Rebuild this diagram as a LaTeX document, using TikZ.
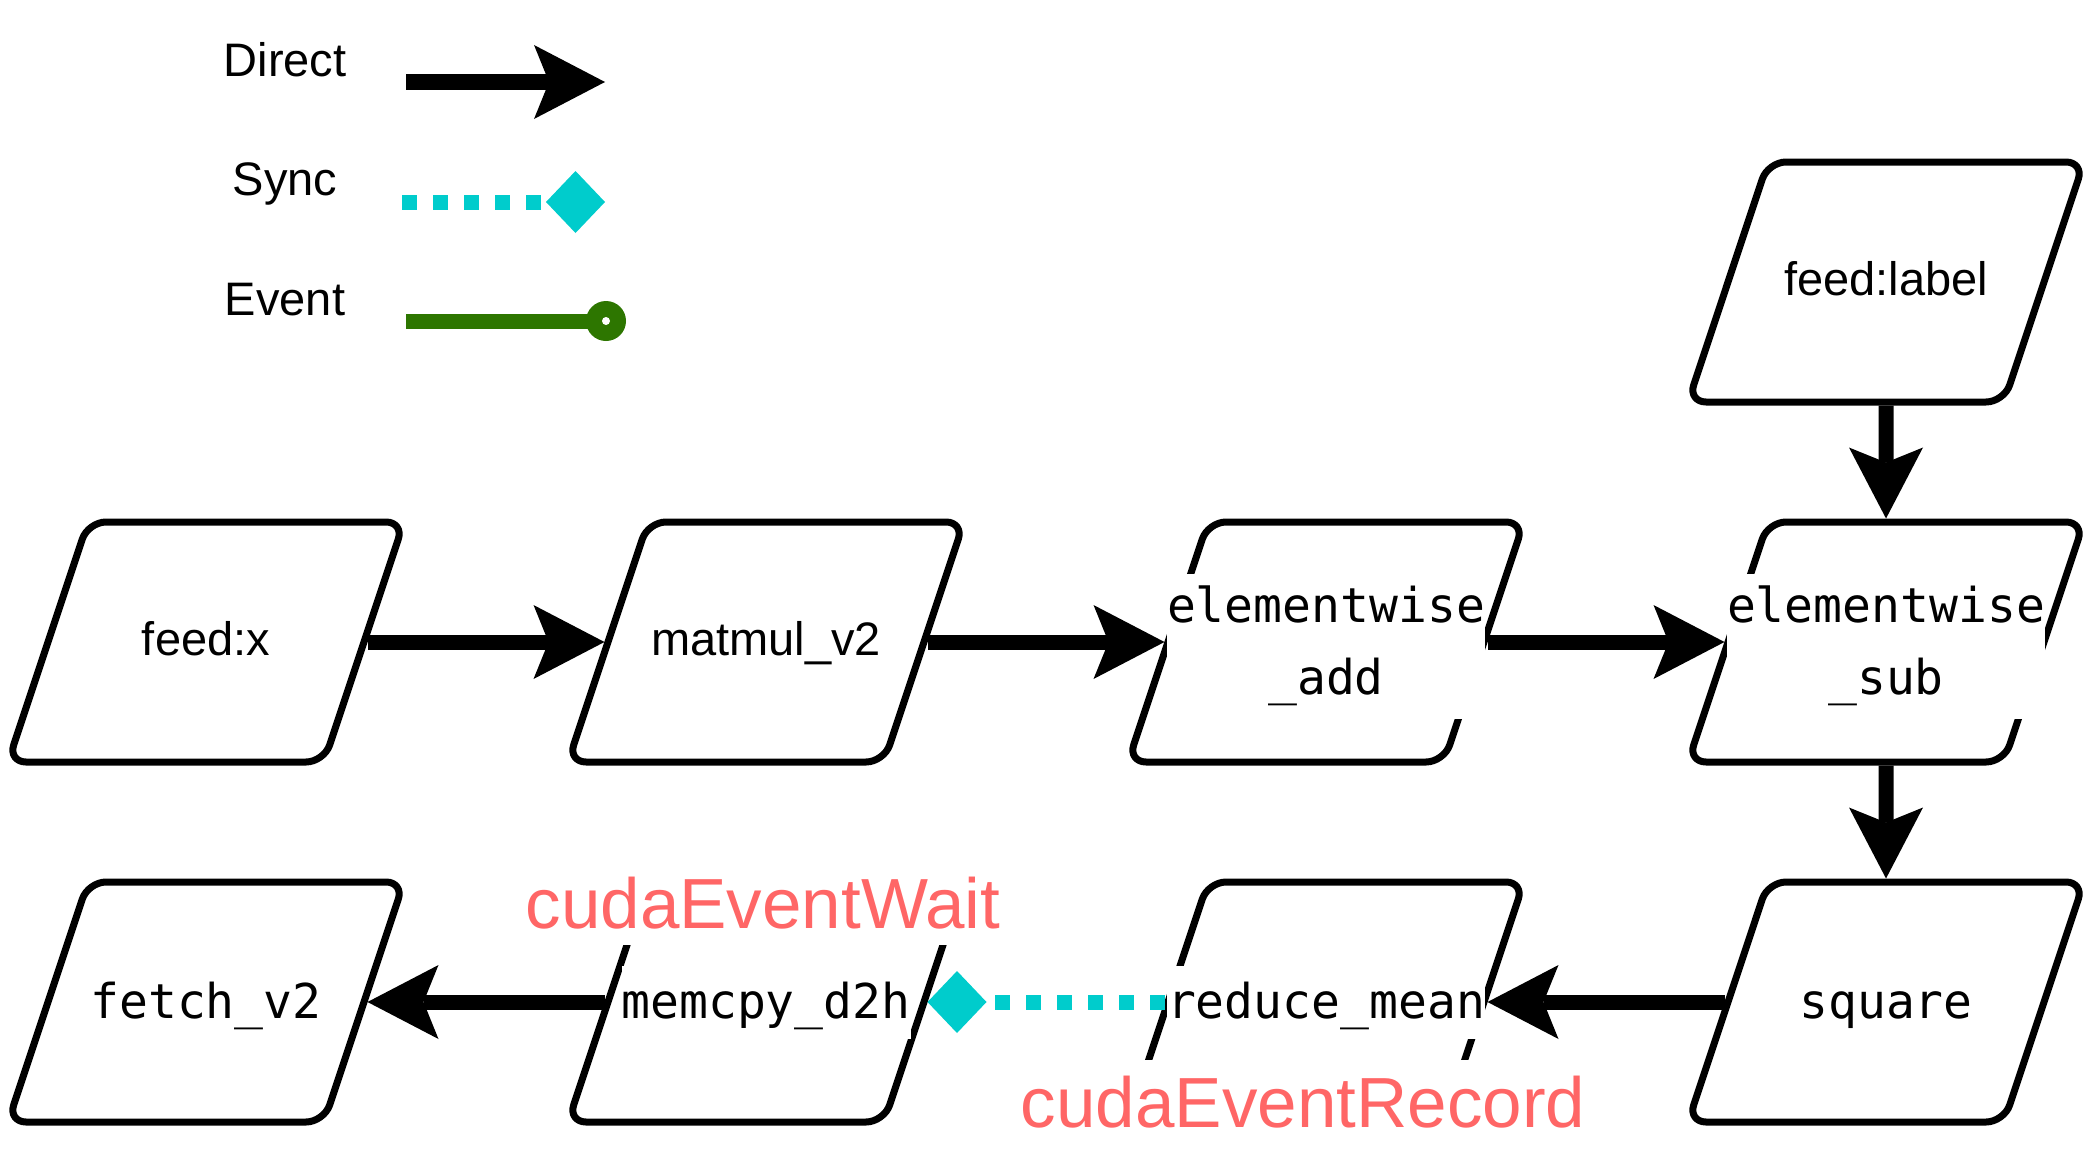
\documentclass[tikz,border=0pt]{standalone}
\usepackage{fontspec}
\setmainfont{Liberation Sans}
\newfontfamily\monofnt{DejaVu Sans Mono}
\usetikzlibrary{shapes.geometric,arrows.meta}
\definecolor{synccol}{HTML}{00CCCC}
\definecolor{evcol}{HTML}{2D7600}
\definecolor{redtxt}{HTML}{FF6666}
\begin{document}
\begin{tikzpicture}[x=1pt,y=-1pt,
  para/.style={rectangle, xslant=0.3333, transform shape,
    minimum width=316pt, minimum height=240pt, inner sep=0pt,
    draw=black, line width=7pt, rounded corners=18pt, fill=white},
  sanslbl/.style={font=\fontsize{47}{56}\selectfont, text height=34pt, text depth=8pt, inner sep=0pt},
  monolbl/.style={font=\monofnt\fontsize{48}{72}\selectfont, fill=white, inner sep=0pt,
    text height=53pt, text depth=20pt},
  monotwo/.style={font=\monofnt\fontsize{48}{72}\selectfont, fill=white, inner sep=0pt,
    align=center, minimum height=145pt, yshift=-4pt},
  cudalbl/.style={font=\fontsize{71}{85}\selectfont, text=redtxt, fill=white, inner sep=2pt,
    text height=65pt, text depth=15pt},
  direct/.style={draw=black, line width=15pt, -{Stealth[length=71pt,width=74pt,inset=15pt,line width=0pt]}},
  syncline/.style={draw=synccol, line width=15pt, dash pattern=on 15pt off 16pt,
    -{Diamond[length=59pt,width=62pt,line width=0pt]}},
  eventline/.style={draw=evcol, line width=15pt},
]
\fill[white] (0,0) rectangle (2088,1164);
\useasboundingbox (0,0) rectangle (2088,1164);

% shapes
\node[para] (feedlabel) at (1886,282) {};
\node[para] (feedx) at (206,642) {};
\node[para] (matmul) at (766,642) {};
\node[para] (add) at (1326,642) {};
\node[para] (sub) at (1886,642) {};
\node[para] (fetch) at (206,1002) {};
\node[para] (memcpy) at (766,1002) {};
\node[para] (reduce) at (1326,1002) {};
\node[para] (square) at (1886,1002) {};

% labels
\node[sanslbl] (feedlabel-t) at (feedlabel.center) {feed:label};
\node[sanslbl] (feedx-t) at (feedx.center) {feed:x};
\node[sanslbl] (matmul-t) at (matmul.center) {matmul\_v2};
\node[monotwo] (add-t) at (add.center) {elementwise\\\_add};
\node[monotwo] (sub-t) at (sub.center) {elementwise\\\_sub};
\node[monolbl] (fetch-t) at (fetch.center) {fetch\_v2};
\node[monolbl] (memcpy-t) at (memcpy.center) {memcpy\_d2h};
\node[monolbl] (reduce-t) at (reduce.center) {reduce\_mean};
\node[monolbl] (square-t) at (square.center) {square};

\node[cudalbl, anchor=base] (waitlbl) at (763,928) {cudaEventWait};
\node[cudalbl, anchor=base] (recordlbl) at (1303,1127) {cudaEventRecord};

% connectors
\draw[direct] (feedx) -- (matmul);
\draw[direct] (matmul) -- (add);
\draw[direct] (add) -- (sub);
\draw[direct] (feedlabel) -- (sub);
\draw[direct] (sub) -- (square);
\draw[direct] (square) -- (reduce);
\draw[direct] (memcpy) -- (fetch);
\draw[syncline] (reduce) -- (memcpy);

% legend
\node[sanslbl, anchor=base] (ldirect) at (285,77) {Direct};
\node[sanslbl, anchor=base] (lsync) at (285,195) {Sync};
\node[sanslbl, anchor=base] (levent) at (285,315) {Event};
\coordinate (d1) at (406,82);
\coordinate (d2) at (605,82);
\draw[direct] (d1) -- (d2);
\coordinate (s1) at (402,202);
\coordinate (s2) at (605,202);
\draw[syncline] (s1) -- (s2);
\coordinate (e1) at (406,321);
\coordinate (e2) at (600,321);
\coordinate (ec) at (606,321);
\draw[eventline] (e1) -- (e2);
\fill[evcol] (ec) circle (20pt);
\fill[white] (ec) circle (4pt);
\end{tikzpicture}
\end{document}
